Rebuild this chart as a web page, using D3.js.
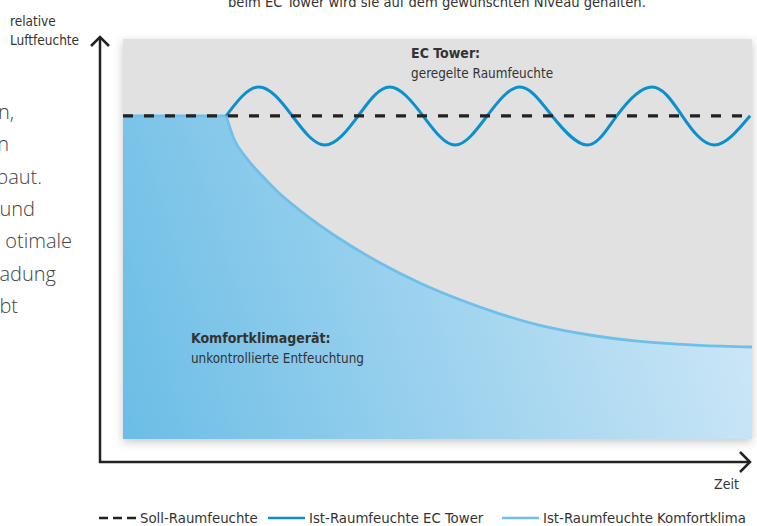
<!DOCTYPE html>
<html><head><meta charset="utf-8">
<script src="https://cdn.jsdelivr.net/npm/d3@7"></script>
<style>
html,body{margin:0;padding:0;background:#fff;overflow:hidden}
svg{display:block}
.cf{font-family:'DejaVu Sans Condensed','DejaVu Sans',sans-serif;font-stretch:condensed}
</style></head><body>
<script>
// ---- data ----
const captionText = ["beim EC Tower wird sie auf dem gewünschten Niveau gehalten."];
const leftFragments = ["n,", "n", "baut.", "und", "otimale", "adung", "bt"];
const yAxisLabel = ["relative", "Luftfeuchte"];
const xAxisLabel = ["Zeit"];

const timeSoll = [0, 100];
const valuesSoll = [80.8, 80.8];

const timeEC = [16.4, 21.6, 26.9, 32.1, 37.4, 42.4, 47.7, 52.8, 57.9, 63.1, 68.2, 73.8, 78.5, 84.1, 88.9, 94.0, 99.7];
const valuesEC = [80.8, 88, 80.8, 73.5, 80.8, 88, 80.8, 73.5, 80.8, 88, 80.8, 73.5, 80.8, 88, 80.8, 73.5, 80.8];

const timeComfortFlat = [0, 16.4];
const valuesComfortFlat = [80.8, 80.8];
const timeComfort = [16.4, 17.7, 19.6, 22.1, 24.8, 28.0, 34.5, 40.9, 47.2, 53.6, 59.9, 66.3, 74.2, 82.2, 91.7, 100];
const valuesComfort = [80.8, 74.8, 70.3, 65.8, 61.5, 57.3, 50, 44, 39, 34.8, 31.3, 28.4, 26, 24.4, 23.4, 23];

const annoEC = ["EC Tower:", "geregelte Raumfeuchte"];
const annoComfort = ["Komfortklimagerät:", "unkontrollierte Entfeuchtung"];
const legendLabels = ["Soll-Raumfeuchte", "Ist-Raumfeuchte EC Tower", "Ist-Raumfeuchte Komfortklima"];

// ---- setup ----
const W = 757, H = 526;
const svg = d3.select("body").append("svg").attr("width", W).attr("height", H);

const x = d3.scaleLinear().domain([0, 100]).range([123, 752]);
const y = d3.scaleLinear().domain([0, 100]).range([439, 39]);

const colSoll = "#222", colEC = "#0a90cf", colComfort = "#6ec0ea", textCol = "#333";

const defs = svg.append("defs");
const f = defs.append("filter").attr("id", "sh").attr("x", "-10%").attr("y", "-10%").attr("width", "120%").attr("height", "125%");
f.append("feDropShadow").attr("dx", 0).attr("dy", 3).attr("stdDeviation", 5).attr("flood-color", "#000").attr("flood-opacity", 0.22);

const g = defs.append("linearGradient").attr("id", "blueGrad").attr("gradientUnits", "userSpaceOnUse")
  .attr("x1", x(0)).attr("y1", y(0)).attr("x2", x(100)).attr("y2", y(50));
g.append("stop").attr("offset", 0).attr("stop-color", "#6bbde6");
g.append("stop").attr("offset", 1).attr("stop-color", "#d0e8f7");

// caption (cut at top)
svg.append("text").attr("class", "cf").attr("x", 228).attr("y", 7).attr("font-size", 14.6)
  .attr("fill", textCol).text(captionText[0]);

// left fragments
svg.append("g").selectAll("text").data(leftFragments).join("text")
  .attr("x", (d, i) => [14, 9, 42, 35, 72, 56, 18][i])
  .attr("y", (d, i) => 119 + i * 32.3)
  .attr("text-anchor", "end")
  .attr("font-family", "'Open Sans',sans-serif").attr("font-weight", 300).attr("font-size", 20)
  .attr("fill", "#444").text(d => d);

// panel
svg.append("rect").attr("x", x(0)).attr("y", y(100)).attr("width", x(100) - x(0)).attr("height", y(0) - y(100))
  .attr("fill", "#e1e1e1").attr("filter", "url(#sh)");

// comfort area (flat part + smooth decay in one path)
const lineCurve = d3.line().x((d, i) => x(timeComfort[i])).y((d, i) => y(valuesComfort[i])).curve(d3.curveMonotoneX);
const curveStr = lineCurve(valuesComfort);
const flatStr = d3.line().x((d, i) => x(timeComfortFlat[i])).y((d, i) => y(valuesComfortFlat[i]))(valuesComfortFlat);
const areaStr = `M${x(0)},${y(0)}` + flatStr.replace(/^M/, "L") + curveStr.replace(/^M/, "L") + `L${x(100)},${y(0)}Z`;
svg.append("path").attr("d", areaStr).attr("fill", "url(#blueGrad)");
svg.append("path").attr("d", flatStr + curveStr.replace(/^M/, "L")).attr("fill", "none")
  .attr("stroke", colComfort).attr("stroke-width", 2.8).attr("stroke-linejoin", "round");

// EC tower wave
const lineEC = d3.line().x((d, i) => x(timeEC[i])).y((d, i) => y(valuesEC[i])).curve(d3.curveNatural);
svg.append("path").attr("d", lineEC(valuesEC)).attr("fill", "none").attr("stroke", colEC).attr("stroke-width", 3);

// Soll line
const lineSoll = d3.line().x((d, i) => x(timeSoll[i])).y((d, i) => y(valuesSoll[i]));
svg.append("path").attr("d", lineSoll(valuesSoll)).attr("fill", "none").attr("stroke", colSoll)
  .attr("stroke-width", 3.2).attr("stroke-dasharray", "10,11");

// annotations
function anno(lines, xv, yv) {
  const t = svg.append("g").attr("class", "cf").attr("fill", textCol);
  t.append("text").attr("x", x(xv)).attr("y", y(yv)).attr("font-size", 14).attr("font-weight", "bold").text(lines[0]);
  t.append("text").attr("x", x(xv)).attr("y", y(yv) + 20).attr("font-size", 13.4).text(lines[1]);
}
anno(annoEC, 45.8, 95.2);
anno(annoComfort, 10.8, 24);

// axes
const axisG = svg.append("g").attr("stroke", "#222").attr("stroke-width", 2.5).attr("fill", "none");
axisG.append("path").attr("d", d3.line()([[100, 37], [100, 462], [750, 462]]));
axisG.append("path").attr("d", d3.line()([[91, 46], [100, 37], [109, 46]]));
axisG.append("path").attr("d", d3.line()([[740, 452], [750, 462], [740, 472]]));

svg.append("g").selectAll("text").data(yAxisLabel).join("text").attr("class", "cf")
  .attr("x", 10).attr("y", (d, i) => 26 + i * 19).attr("font-size", 13.5)
  .attr("fill", textCol).text(d => d);
svg.append("text").attr("class", "cf").attr("x", 714).attr("y", 489).attr("font-size", 14)
  .attr("fill", textCol).text(xAxisLabel[0]);

// legend
const legX = [99, 268, 502];
const leg = svg.append("g");
const legStyles = [[colSoll, "9,5"], [colEC, null], [colComfort, null]];
legendLabels.forEach((lab, i) => {
  leg.append("line").attr("x1", legX[i]).attr("x2", legX[i] + 37).attr("y1", 518).attr("y2", 518)
    .attr("stroke", legStyles[i][0]).attr("stroke-width", 2.5).attr("stroke-dasharray", legStyles[i][1]);
  leg.append("text").attr("class", "cf").attr("x", legX[i] + 41).attr("y", 523).attr("font-size", 14.8)
    .attr("fill", textCol).text(lab);
});
</script>
</body></html>
